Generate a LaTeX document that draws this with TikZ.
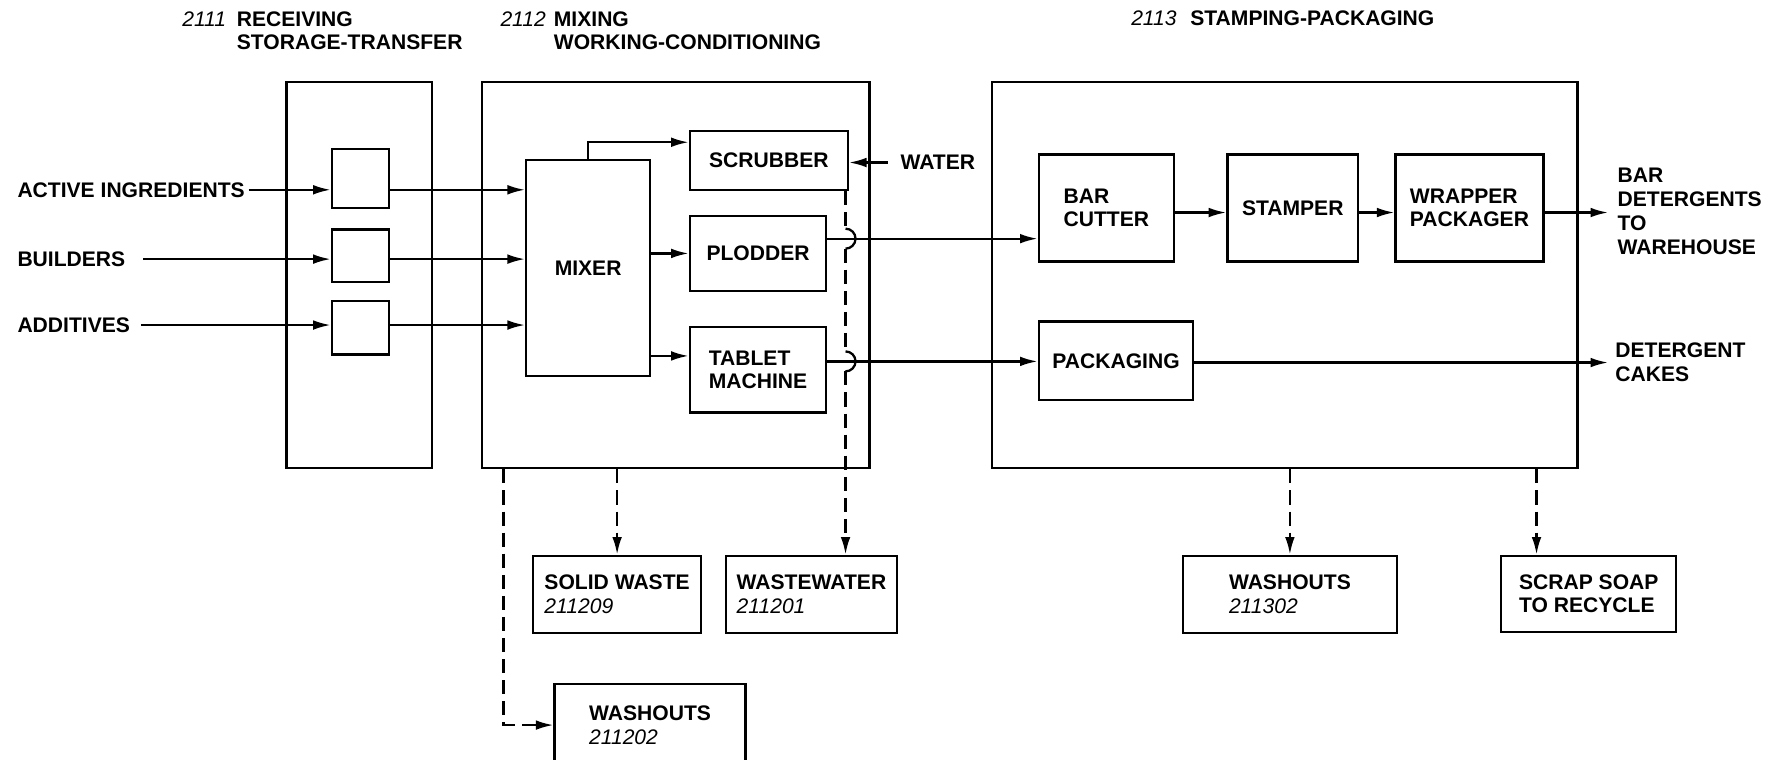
\documentclass[tikz,border=0pt]{standalone}
\usepackage{fontspec}
\setmainfont{Liberation Sans}
\usetikzlibrary{arrows.meta,positioning}
\newcommand{\numfont}{\fontsize{12}{14}\selectfont\mdseries\itshape}

\begin{document}
\begin{tikzpicture}[x=0.02273cm, y=-0.02273cm,
  font=\fontsize{12}{13.5}\selectfont\bfseries,
  wh/.style 2 args={minimum width=#1*0.02273cm, minimum height=#2*0.02273cm},
  area/.style={draw, line width=1.3pt, inner sep=0pt},
  unit/.style={draw, line width=1.3pt, inner sep=0pt, align=center},
  sink/.style={unit, align=left},
  lbl/.style={inner sep=2pt, align=left},
  flow/.style={line width=1.3pt, -{Latex[length=10pt,width=5.5pt]}},
  drain/.style={flow, dash pattern=on 8pt off 4pt},
  hop/.style={line width=1.3pt}]
\useasboundingbox (0,0) rectangle (1568,668);

% Area headings
\node[lbl, anchor=west, font=\numfont] (n2111) at (157,17) {2111};
\node[lbl, anchor=west] (h2111) at (205,27) {RECEIVING\\STORAGE-TRANSFER};
\node[lbl, anchor=west, font=\numfont] (n2112) at (437,17) {2112};
\node[lbl, anchor=west] (h2112) at (484,27) {MIXING\\WORKING-CONDITIONING};
\node[lbl, anchor=west, font=\numfont] (n2113) at (992,16) {2113};
\node[lbl, anchor=west] (h2113) at (1044,16) {STAMPING-PACKAGING};

% Process areas
\node[area, wh={128}{340}] (receiving) at (316,242) {};
\node[area, wh={341}{340}] (mixing) at (594.5,242) {};
\node[area, wh={515}{340}] (stamping) at (1130.5,242) {};

% Receiving bins
\node[unit, wh={50}{52}] (bin1) at (317,157) {};
\node[unit, wh={50}{46}] (bin2) at (317,225) {};
\node[unit, wh={50}{47}] (bin3) at (317,288.5) {};

% Mixing units
\node[unit, wh={109}{190}] (mixer) at (517.5,236) {MIXER};
\node[unit, wh={139}{52}] (scrubber) at (676.5,141) {SCRUBBER};
\node[unit, wh={120}{66}] (plodder) at (667,223) {PLODDER};
\node[sink, wh={120}{75}] (tablet) at (667,325.5) {TABLET\\MACHINE};

% Stamping units
\node[sink, wh={119}{94}] (cutter) at (973.5,183) {BAR\\CUTTER};
\node[unit, wh={115}{94}] (stamper) at (1137.5,183) {STAMPER};
\node[sink, wh={130}{94}] (wrapper) at (1293,183) {WRAPPER\\PACKAGER};
\node[unit, wh={136}{69}] (packaging) at (982,317.5) {PACKAGING};

% Waste streams
\node[sink, wh={148}{68}] (solid) at (543,523) {SOLID WASTE\\{\numfont 211209}};
\node[sink, wh={150}{68}] (wastewater) at (714,523) {WASTEWATER\\{\numfont 211201}};
\node[sink, wh={168}{72}] (wash1) at (572,638) {WASHOUTS\\{\numfont 211202}};
\node[sink, wh={188}{68}] (wash2) at (1135,523) {WASHOUTS\\{\numfont 211302}};
\node[sink, wh={154}{67}] (scrap) at (1398,522.5) {SCRAP SOAP\\TO RECYCLE};

% Raw materials in
\node[lbl, anchor=west] (active) at (12,167) {ACTIVE INGREDIENTS};
\node[lbl, anchor=west] (builders) at (12,228) {BUILDERS};
\node[lbl, anchor=west] (additives) at (12,286) {ADDITIVES};
\draw[flow] (active) -- (active -| bin1.west);
\draw[flow] ([xshift=8pt]builders.east) -- (builders -| bin2.west);
\draw[flow] ([xshift=4pt]additives.east) -- (additives -| bin3.west);
\draw[flow] (bin1.east |- active) -- (mixer.west |- active);
\draw[flow] (bin2.east |- builders) -- (mixer.west |- builders);
\draw[flow] (bin3.east |- additives) -- (mixer.west |- additives);

% Mixer outputs
\coordinate (tabin) at ([yshift=0.28cm]tablet.west);
\draw[flow] (mixer.north) |- ([yshift=0.36cm]scrubber.west);
\draw[flow] (mixer.east |- plodder.west) -- (plodder.west);
\draw[flow] (mixer.east |- tabin) -- (tabin);

% Water to scrubber
\node[lbl, anchor=west] (water) at (789,143) {WATER};
\draw[flow] ([xshift=-5pt]water.west) -- (scrubber.east |- water.west);

% Product lines
\coordinate (hop1) at (744,210);
\coordinate (hop2) at (744,318);
\draw[flow] (plodder.east |- hop1) -- (cutter.west |- hop1);
\draw[flow] (tablet.east |- hop2) -- (packaging.west |- hop2);

% Scrubber drain, hopping over the product lines
\draw[drain, -] (scrubber.south -| hop1) -- ([yshift=0.2cm]hop1);
\draw[hop] ([yshift=0.2cm]hop1) arc[start angle=90, end angle=-90, radius=0.2cm];
\draw[drain, -] ([yshift=-0.2cm]hop1) -- ([yshift=0.2cm]hop2);
\draw[hop] ([yshift=0.2cm]hop2) arc[start angle=90, end angle=-90, radius=0.2cm];
\draw[drain] ([yshift=-0.2cm]hop2) -- (wastewater.north -| hop1);

% Stamping line
\coordinate (out1) at (1415,187);
\coordinate (out2) at (1415,319);
\draw[flow] (cutter.east |- out1) -- (stamper.west |- out1);
\draw[flow] (stamper.east |- out1) -- (wrapper.west |- out1);
\draw[flow] (wrapper.east |- out1) -- (out1);
\draw[flow] (packaging.east |- out2) -- (out2);
\node[lbl, anchor=west] (bars) at (1420,186) {BAR\\DETERGENTS\\TO\\WAREHOUSE};
\node[lbl, anchor=west] (cakes) at (1418,319) {DETERGENT\\CAKES};

% Waste flows
\coordinate (washtap) at (443,0);
\coordinate (scraptap) at (1352,0);
\draw[drain] (mixing.south -| washtap) |- (wash1.west);
\draw[drain] (mixing.south -| solid.north) -- (solid.north);
\draw[drain] (stamping.south -| wash2.north) -- (wash2.north);
\draw[drain] (stamping.south -| scraptap) -- (scrap.north -| scraptap);
\end{tikzpicture}
\end{document}
